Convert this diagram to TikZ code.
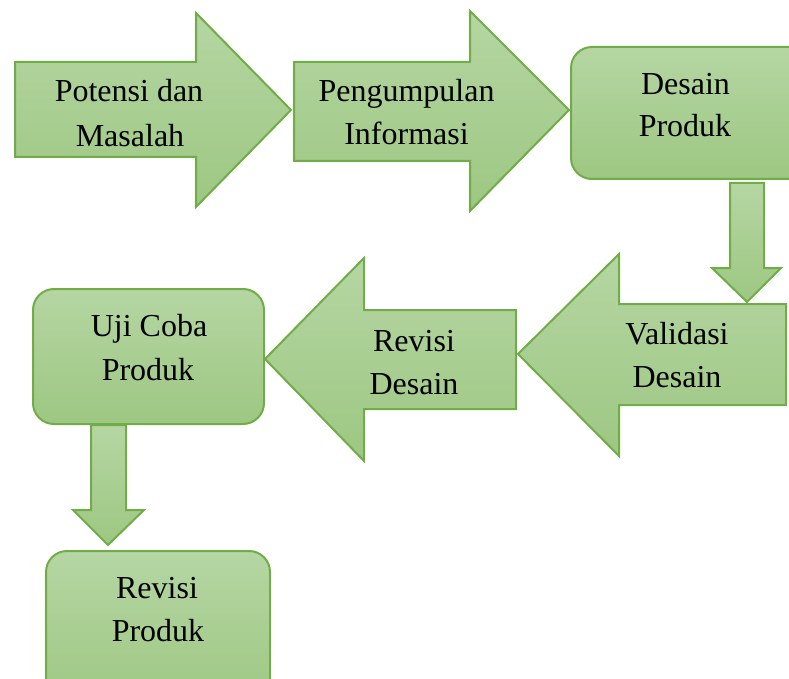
\documentclass[tikz,border=0pt]{standalone}
\usepackage{fontspec}
\setmainfont{Liberation Serif}
\definecolor{gtop}{RGB}{181,214,163}
\definecolor{gbot}{RGB}{157,199,130}
\definecolor{gborder}{RGB}{112,173,71}
\tikzset{
  shp/.style={draw=gborder, line width=2pt, line join=miter, top color=gtop, bottom color=gbot},
  rbox/.style={shp, rounded corners=21pt},
  lbl/.style={anchor=base, inner sep=0pt, font=\fontsize{32}{43}\selectfont, text=black}
}
\begin{document}
\begin{tikzpicture}[x=1pt,y=-1pt]
\useasboundingbox (0,0) rectangle (789,679);
\clip (0,0) rectangle (789,679);
% shapes
\path[shp] (15,62) -- (196,62) -- (196,13) -- (291,110) -- (196,207) -- (196,157) -- (15,157) -- cycle;
\path[shp] (294,62) -- (470,62) -- (470,11) -- (569,110) -- (470,211) -- (470,161) -- (294,161) -- cycle;
\path[rbox] (571,47) rectangle (810,179);
\path[shp] (730,183) -- (764,183) -- (764,268) -- (781,268) -- (747,302) -- (712,268) -- (730,268) -- cycle;
\path[shp] (786,304) -- (619,304) -- (619,254) -- (518,354) -- (619,456) -- (619,405) -- (786,405) -- cycle;
\path[shp] (516,310) -- (364,310) -- (364,258) -- (265,359) -- (364,461) -- (364,409) -- (516,409) -- cycle;
\path[rbox] (33,289) rectangle (264,424);
\path[shp] (91,425) -- (126,425) -- (126,510) -- (144,510) -- (108,545) -- (73,510) -- (91,510) -- cycle;
\path[rbox] (46,551) rectangle (270,710);
% labels
\node[lbl] (pm1) at (129,102) {Potensi dan};
\node[lbl] (pm2) at (130,147) {Masalah};
\node[lbl] (pi1) at (406.5,102) {Pengumpulan};
\node[lbl] (pi2) at (406.5,145) {Informasi};
\node[lbl] (dp1) at (685.5,95) {Desain};
\node[lbl] (dp2) at (685,137) {Produk};
\node[lbl] (vd1) at (677,344) {Validasi};
\node[lbl] (vd2) at (677,387) {Desain};
\node[lbl] (rd1) at (414,351) {Revisi};
\node[lbl] (rd2) at (414,394) {Desain};
\node[lbl] (uc1) at (149,336) {Uji Coba};
\node[lbl] (uc2) at (148,380) {Produk};
\node[lbl] (rp1) at (157,598) {Revisi};
\node[lbl] (rp2) at (158,641) {Produk};
\end{tikzpicture}
\end{document}
